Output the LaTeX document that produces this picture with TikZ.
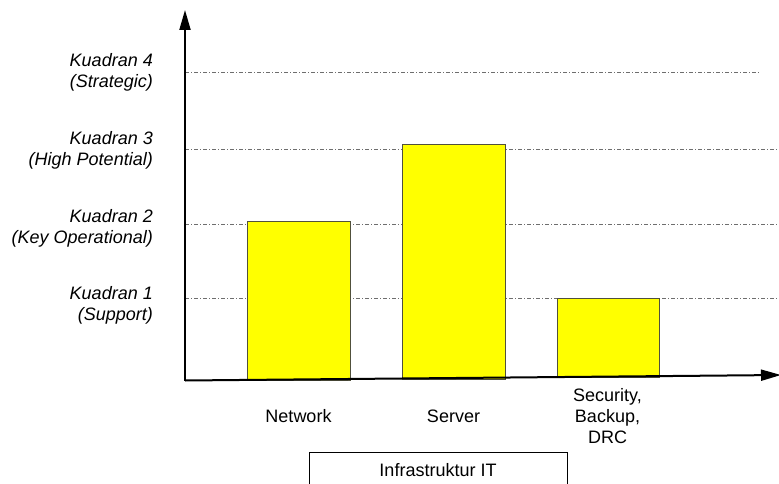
\documentclass[tikz,border=0pt]{standalone}
\usepackage{fontspec}
\setmainfont{Liberation Sans}
\usetikzlibrary{arrows.meta}
\definecolor{baryellow}{RGB}{255,255,0}
\definecolor{barline}{RGB}{80,80,60}
\definecolor{guidegray}{RGB}{110,110,110}
\begin{document}
\begin{tikzpicture}[x=1pt,y=-1pt,
  lbl/.style={font=\fontsize{18}{21}\selectfont, inner sep=0pt},
  qlabel/.style={lbl, font=\fontsize{18}{21}\selectfont\itshape, align=right, anchor=east},
  catlabel/.style={lbl, align=center},
  guide/.style={draw=guidegray, line width=0.8pt, dash pattern=on 4pt off 2pt on 1pt off 2pt},
  bar/.style={draw=barline, line width=1pt, fill=baryellow, inner sep=0pt, anchor=north west},
  axis/.style={line width=2pt, -{Triangle[length=20pt,width=11pt]}}
]
\useasboundingbox (0,0) rectangle (779,484);

% guide lines
\coordinate (o) at (185,380.5);
\coordinate (g4a) at (185,72);  \coordinate (g4b) at (760,72);
\coordinate (g3a) at (185,149); \coordinate (g3b) at (781,149);
\coordinate (g2a) at (185,224); \coordinate (g2b) at (781,224);
\coordinate (g1a) at (185,298); \coordinate (g1b) at (781,298);
\draw[guide] (g4a) -- (g4b);
\draw[guide] (g3a) -- (g3b);
\draw[guide] (g2a) -- (g2b);
\draw[guide] (g1a) -- (g1b);

% bars
\node[bar, minimum width=103pt, minimum height=158.5pt] (network) at (247,221) {};
\node[bar, minimum width=103pt, minimum height=234.5pt] (server) at (402,144) {};
\node[bar, minimum width=102pt, minimum height=79pt] (security) at (557,298) {};

% axes
\coordinate (ytip) at (185,10);
\coordinate (xtip) at (781,375);
\draw[axis] (o) -- (ytip);
\draw[axis] (o) -- (xtip);

% quadrant labels
\node[qlabel] (k4) at (153,72.5) {Kuadran 4\\(Strategic)};
\node[qlabel] (k3) at (153,150) {Kuadran 3\\(High Potential)};
\node[qlabel] (k2) at (153,228) {Kuadran 2\\(Key Operational)};
\node[qlabel] (k1) at (153,305) {Kuadran 1\\(Support)};

% category labels
\node[catlabel] (lnet) at (298.5,416) {Network};
\node[catlabel] (lsrv) at (453.5,416.5) {Server};
\node[catlabel] (lsec) at (607.5,416) {Security,\\Backup,\\DRC};

% infrastructure box
\node[lbl, draw=black, line width=1pt, minimum width=258pt, minimum height=36pt, anchor=north] (infra) at (438,452) {Infrastruktur IT};
\end{tikzpicture}
\end{document}
